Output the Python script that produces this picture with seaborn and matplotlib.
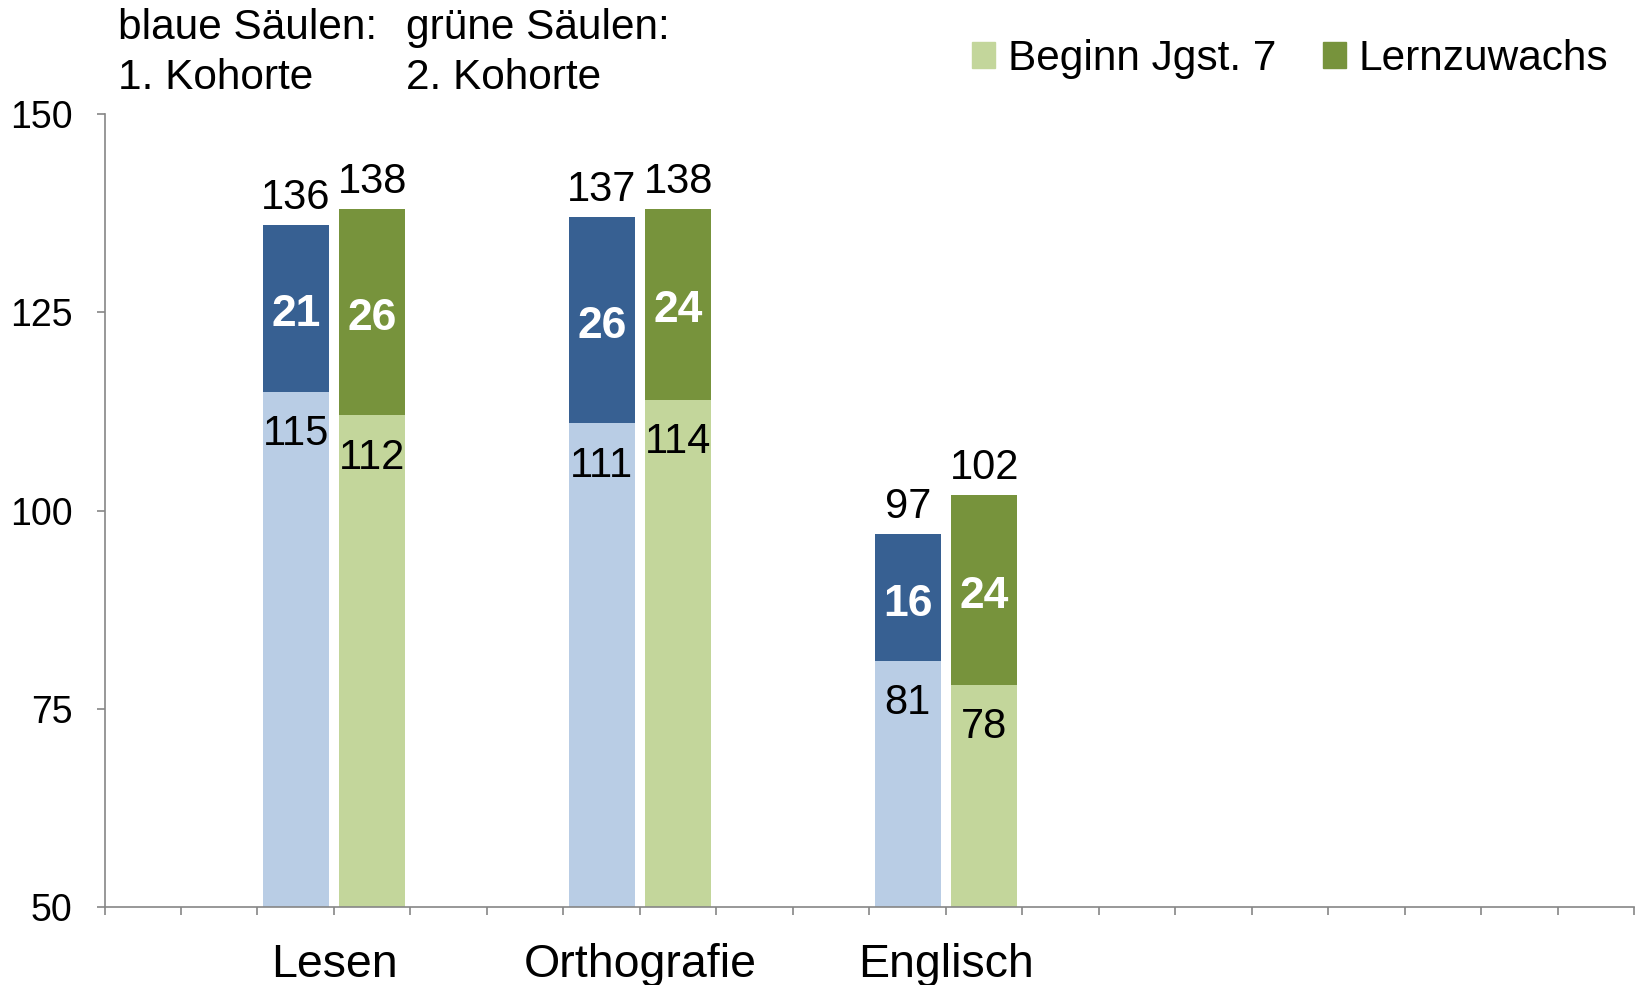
import numpy as np
import pandas as pd
import matplotlib.pyplot as plt
import seaborn as sns
from matplotlib.patches import Patch

faecher = ['Lesen', 'Orthografie', 'Englisch']
beginn_k1 = [115, 111, 81]
beginn_k2 = [112, 114, 78]
zuwachs_k1 = [21, 26, 16]
zuwachs_k2 = [26, 24, 24]
gesamt_k1 = [136, 137, 97]
gesamt_k2 = [138, 138, 102]
legende = ['Beginn Jgst. 7', 'Lernzuwachs']

dunkelblau = '#376092'
hellblau = '#B9CDE5'
dunkelgruen = '#77933C'
hellgruen = '#C3D69B'
grau = '#868686'

# 20 Kategorie-Plaetze wie im Excel-Diagramm, Balken in Platz 2/3, 6/7, 10/11
n_slots = 20
rows = []
for i in range(len(faecher)):
    rows.append({'slot': 2 + 4 * i, 'kohorte': '1', 'beginn': beginn_k1[i],
                 'zuwachs': zuwachs_k1[i], 'gesamt': gesamt_k1[i]})
    rows.append({'slot': 3 + 4 * i, 'kohorte': '2', 'beginn': beginn_k2[i],
                 'zuwachs': zuwachs_k2[i], 'gesamt': gesamt_k2[i]})
df = pd.DataFrame(rows)

sns.set_style('white', rc={'text.color': 'black', 'xtick.color': 'black',
                           'ytick.color': 'black', 'axes.labelcolor': 'black'})
plt.rcParams['font.family'] = ['Liberation Sans', 'DejaVu Sans']

fig = plt.figure(figsize=(16.38, 9.85), dpi=100)
ax = fig.add_axes([0.0638, 0.0792, 0.934, 0.805])

order = list(range(n_slots))
sns.barplot(data=df, x='slot', y='gesamt', hue='kohorte', order=order,
            palette={'1': dunkelblau, '2': dunkelgruen}, dodge=False,
            width=0.86, saturation=1, errorbar=None, legend=False,
            linewidth=0, ax=ax)
sns.barplot(data=df, x='slot', y='beginn', hue='kohorte', order=order,
            palette={'1': hellblau, '2': hellgruen}, dodge=False,
            width=0.86, saturation=1, errorbar=None, legend=False,
            linewidth=0, ax=ax)

for _, r in df.iterrows():
    x = r['slot']
    ax.annotate(str(r['gesamt']), (x, r['gesamt']), xytext=(0, 5),
                textcoords='offset points', ha='center', va='bottom', fontsize=30)
    ax.annotate(str(r['beginn']), (x, r['beginn']), xytext=(0, -16),
                textcoords='offset points', ha='center', va='top', fontsize=30)
    ax.text(x, r['beginn'] + r['zuwachs'] / 2 - 0.8, str(r['zuwachs']),
            ha='center', va='center', fontsize=32, fontweight='bold', color='white')

ax.set_ylim(50, 150)
ax.set_xlim(-0.5, n_slots - 0.5)
ax.set_yticks([50, 75, 100, 125, 150])
ax.set_yticklabels(['50', '75', '100', '125', '150'], fontsize=27)

# Kategorienamen sitzen auf den Trennstrichen zwischen den beiden Kohorten
xlabels = [''] * (n_slots + 1)
for i, f in enumerate(faecher):
    xlabels[3 + 4 * i] = f
ax.set_xticks(np.arange(-0.5, n_slots, 1))
ax.set_xticklabels(xlabels, fontsize=33.5)
ax.tick_params(axis='x', bottom=True, direction='out', length=6, width=1.2,
               color=grau, pad=20)
ax.tick_params(axis='y', left=True, direction='out', length=6, width=1.2,
               color=grau, pad=17)
ax.set_xlabel('')
ax.set_ylabel('')
for s in ['top', 'right']:
    ax.spines[s].set_visible(False)
for s in ['left', 'bottom']:
    ax.spines[s].set_color(grau)
    ax.spines[s].set_linewidth(1.2)

fig.text(0.072, 0.972, 'blaue Säulen:', fontsize=30.5, va='center', ha='left')
fig.text(0.072, 0.921, '1. Kohorte', fontsize=30.5, va='center', ha='left')
fig.text(0.248, 0.972, 'grüne Säulen:', fontsize=30.5, va='center', ha='left')
fig.text(0.248, 0.921, '2. Kohorte', fontsize=30.5, va='center', ha='left')

handles = [Patch(color=hellgruen), Patch(color=dunkelgruen)]
fig.legend(handles, legende, loc='center right', bbox_to_anchor=(0.982, 0.94),
           ncol=2, frameon=False, fontsize=30.5, handlelength=0.55, handleheight=0.55,
           handletextpad=0.3, columnspacing=1.1, borderpad=0, borderaxespad=0)

fig.savefig('out.png', dpi=100)
